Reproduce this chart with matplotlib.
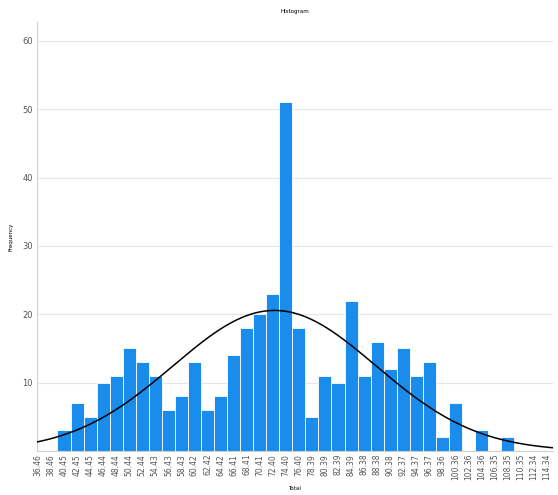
import numpy as np
import matplotlib
matplotlib.use("Agg")
import matplotlib.pyplot as plt

# bin labels (bin centres) as printed under the bars
labels = ['36.46', '38.46', '40.45', '42.45', '44.45', '46.44', '48.44', '50.44',
          '52.44', '54.43', '56.43', '58.43', '60.42', '62.42', '64.42', '66.41',
          '68.41', '70.41', '72.40', '74.40', '76.40', '78.39', '80.39', '82.39',
          '84.39', '86.38', '88.38', '90.38', '92.37', '94.37', '96.37', '98.36',
          '100.36', '102.36', '104.36', '106.35', '108.35', '110.35', '112.34', '114.34']
counts = [0, 0, 3, 7, 5, 10, 11, 15, 13, 11, 6, 8, 13, 6, 8, 14, 18, 20, 23, 51,
          18, 5, 11, 10, 22, 11, 16, 12, 15, 11, 13, 2, 7, 0, 3, 0, 2, 0, 0, 0]

x = np.array([float(s) for s in labels])
y = np.array(counts)
w = x[1] - x[0]

fig = plt.figure(figsize=(5.58, 4.95), dpi=100)
ax = fig.add_axes([0.0663, 0.0889, 0.924, 0.867])

ax.bar(x, y, width=w, color='#1a8cec', edgecolor='white', linewidth=0.6, zorder=2)

# normal curve from the data's mean and sd
n = y.sum()
mu = (x * y).sum() / n
sd = np.sqrt(((x - mu) ** 2 * y).sum() / (n - 1))
xs = np.linspace(x[0] - w, x[-1] + w, 400)
ys = n * w / (sd * np.sqrt(2 * np.pi)) * np.exp(-0.5 * ((xs - mu) / sd) ** 2)
ax.plot(xs, ys, color='black', linewidth=1.1, zorder=3)

ax.set_xlim(x[0] - 0.07 * w, x[-1] + 0.45 * w)
ax.set_ylim(0, 62.8)
ax.set_yticks([10, 20, 30, 40, 50, 60])
ax.set_xticks(x)
ax.set_xticklabels(labels, rotation=90, fontsize=5.5, color='#555555')
ax.tick_params(axis='y', labelsize=6, colors='#555555', length=0, pad=3)
ax.tick_params(axis='x', length=0, pad=2)
ax.yaxis.grid(True, color='#e6e6e6', linewidth=0.8, zorder=0)
ax.set_axisbelow(True)

for side in ['top', 'right']:
    ax.spines[side].set_visible(False)
ax.spines['left'].set_color('#d0d0d0')
ax.spines['bottom'].set_color('#d0d0d0')

ax.set_title('Histogram', fontsize=4, pad=6)
ax.set_ylabel('Frequency', fontsize=4, labelpad=6)
ax.set_xlabel('Total', fontsize=4, labelpad=4)

fig.savefig('out.png', dpi=100)
